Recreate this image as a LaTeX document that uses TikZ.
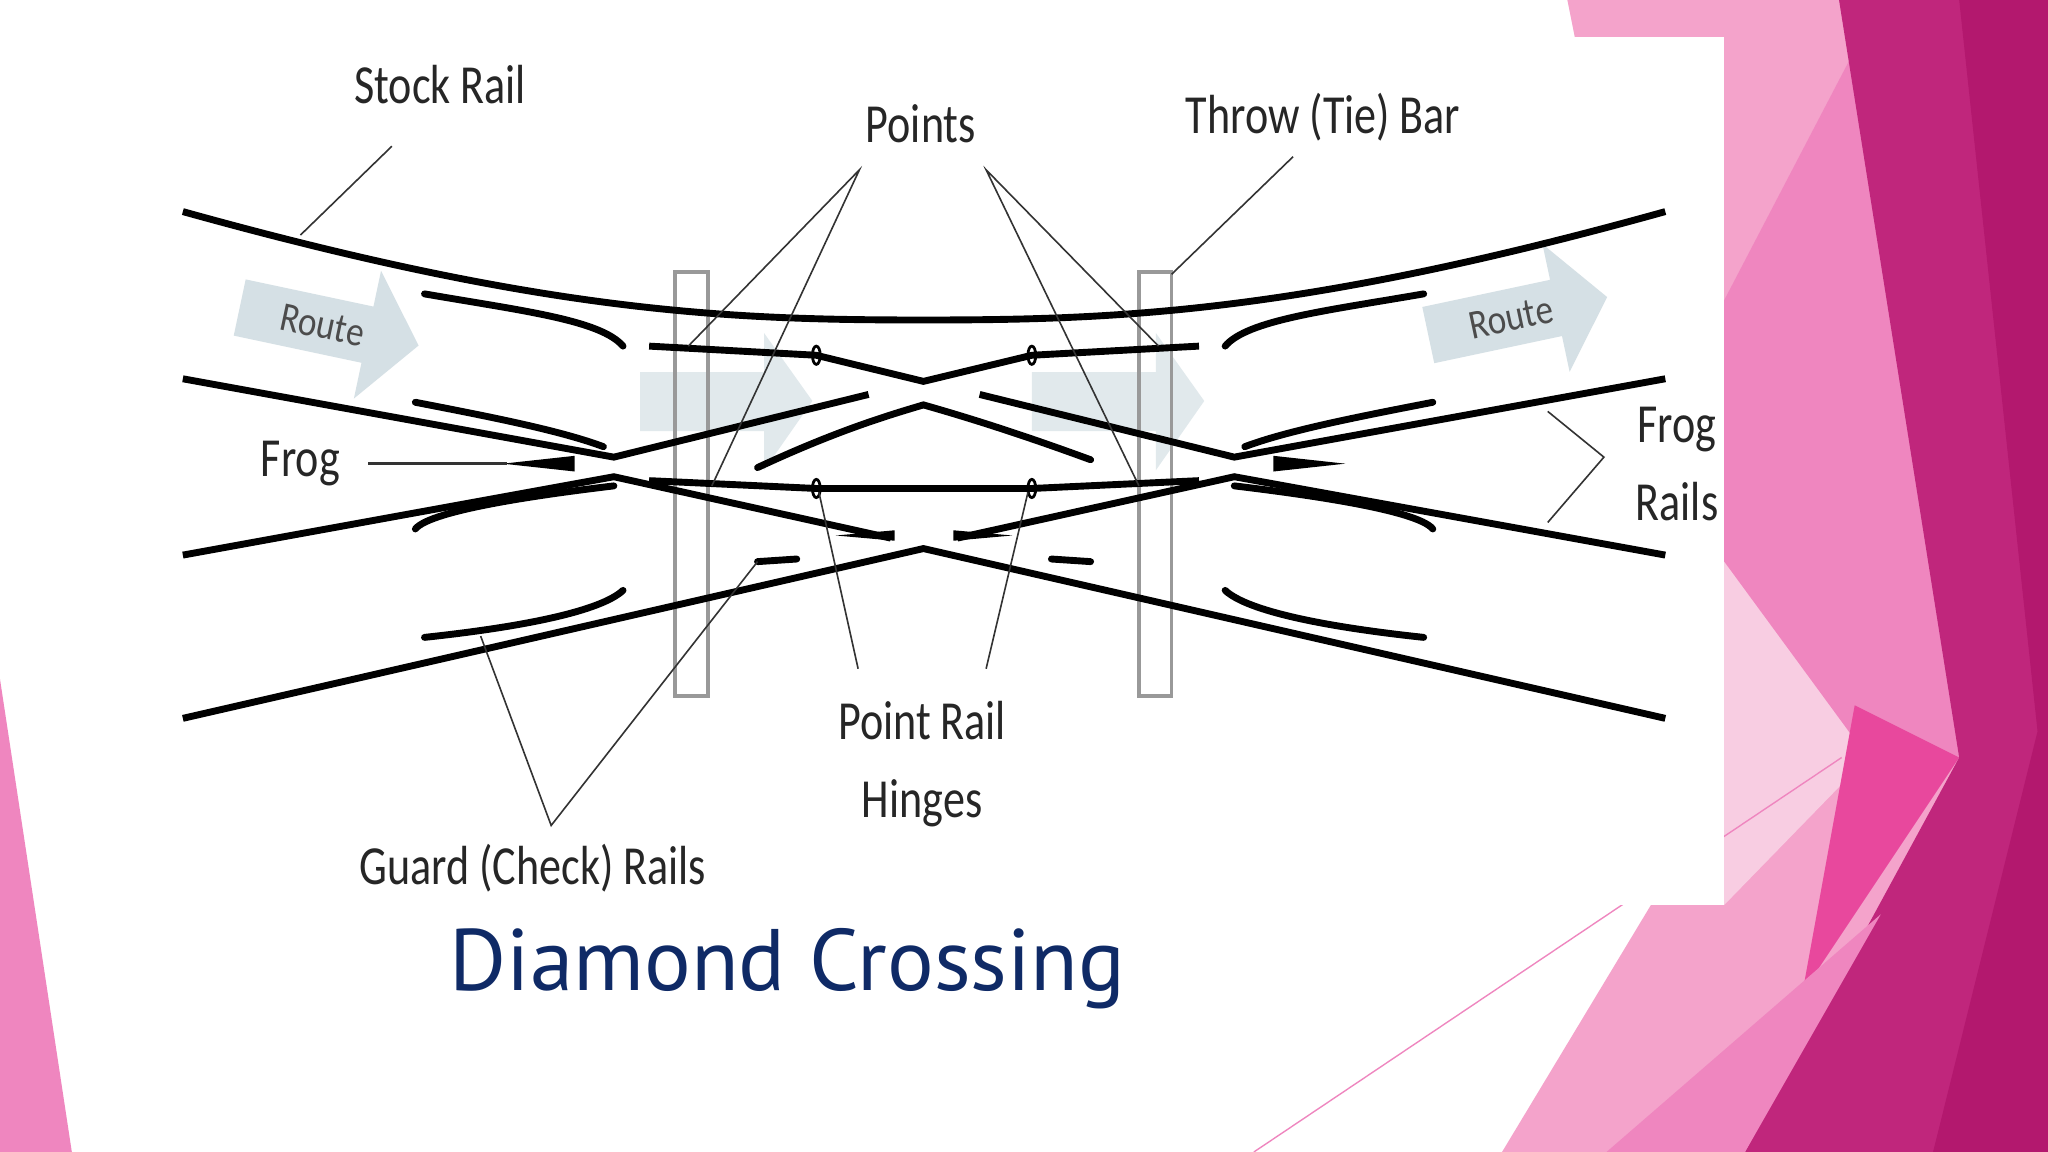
\documentclass[tikz,border=0pt]{standalone}
\usepackage{fontspec}
\setmainfont{Carlito}
\newfontfamily\titlefont{PT Sans}
\definecolor{pkA}{HTML}{F4A3CB}
\definecolor{pkB}{HTML}{EF86BF}
\definecolor{pkC}{HTML}{F8CDE2}
\definecolor{pkHot}{HTML}{E8489D}
\definecolor{pkDark}{HTML}{C0267C}
\definecolor{pkDarker}{HTML}{B3186E}
\definecolor{navy}{HTML}{0F2A66}
\begin{document}
\begin{tikzpicture}[x=0.01cm,y=-0.01cm,
  rail/.style={line width=1.5pt,line cap=butt},
  guard/.style={line width=1.5pt,line cap=round},
  lead/.style={line width=0.35pt,black!80},
  lbl/.style={font=\fontsize{12}{13}\selectfont,xscale=0.8,transform shape,black!85,align=center},
  bar/.style={draw=gray!80,line width=0.8pt,fill=none},
  routearrow/.style={fill=cyan!25!gray!30,draw=none}]
\useasboundingbox (0,0) rectangle (1568,882);
% background
\fill[white] (0,0) rectangle (1568,882);
\fill[pkA] (1200,0) -- (1568,0) -- (1568,882) -- (1150,882) -- (1320,600) -- cycle;
\fill[pkB] (1320,230) -- (1440,0) -- (1500,580) -- (1320,600) -- cycle;
\fill[pkC] (1320,430) -- (1430,580) -- (1320,693) -- cycle;
\fill[pkHot] (1420,540) -- (1500,580) -- (1380,760) -- cycle;
\fill[pkDark] (1408,0) -- (1568,0) -- (1568,882) -- (1336,882) -- (1500,580) -- cycle;
\fill[pkDarker] (1500,0) -- (1568,0) -- (1568,882) -- (1480,882) -- (1560,560) -- cycle;
\fill[pkB] (1230,882) -- (1336,882) -- (1440,700) -- cycle;
\draw[pkB,line width=0.3pt] (960,882) -- (1410,580);
\fill[white] (0,28) rectangle (1320,693);
\fill[pkB] (0,520) -- (55,882) -- (0,882) -- cycle;
% route arrows
\begin{scope}[shift={(252,250)},rotate=-12]
 \fill[routearrow] (-70,-22) -- (30,-22) -- (30,-50) -- (70,0) -- (30,50) -- (30,22) -- (-70,22) -- cycle;
 \node[font=\fontsize{9}{10}\selectfont,xscale=0.85,transform shape,black!70] (r1) at (-5,0) {Route};
\end{scope}
\begin{scope}[shift={(1162,242)},rotate=12]
 \fill[routearrow] (-70,-22) -- (30,-22) -- (30,-50) -- (70,0) -- (30,50) -- (30,22) -- (-70,22) -- cycle;
 \node[font=\fontsize{9}{10}\selectfont,xscale=0.85,transform shape,black!70] (r2) at (-5,0) {Route};
\end{scope}
\fill[routearrow,opacity=0.7] (490,285) -- (585,285) -- (585,255) -- (622,307) -- (585,360) -- (585,330) -- (490,330) -- cycle;
\fill[routearrow,opacity=0.7] (790,285) -- (885,285) -- (885,255) -- (922,307) -- (885,360) -- (885,330) -- (790,330) -- cycle;
% throw bars
\draw[bar] (517,208) rectangle (542,533);
\draw[bar] (872,208) rectangle (897,533);
% stock rails
\draw[rail] (140,162) .. controls (420,240) and (560,245) .. (707,245) .. controls (855,245) and (995,240) .. (1275,162);
\draw[rail] (140,550) -- (707,420) -- (1275,550);
% upper point rails
\draw[rail] (497,265) -- (625,272) -- (707,292) -- (790,272) -- (918,265);
\draw[line width=0.6pt] (625,272) ellipse (3 and 7) (790,272) ellipse (3 and 7);
% lower closure rail
\draw[rail] (497,368) -- (625,374) -- (790,374) -- (918,368);
\draw[line width=0.6pt] (625,374) ellipse (3 and 7) (790,374) ellipse (3 and 7);
% diagonal rails
\draw[rail] (140,290) -- (470,350) -- (665,302);
\draw[rail] (140,425) -- (470,365) -- (682,412);
\draw[rail] (1275,290) -- (945,350) -- (750,302);
\draw[rail] (1275,425) -- (945,365) -- (733,412);
% frogs
\fill (385,355) -- (440,349) -- (440,361) -- cycle;
\fill (1030,355) -- (975,349) -- (975,361) -- cycle;
\fill (640,410) -- (685,406) -- (685,414) -- cycle;
\fill (775,410) -- (730,406) -- (730,414) -- cycle;
% inner rails
\draw[guard] (580,358) .. controls (640,330) and (680,318) .. (707,310) .. controls (735,318) and (775,330) .. (835,352);
\draw[guard] (580,430) -- (610,428);
\draw[guard] (835,430) -- (805,428);
% guard rails
\draw[guard] (325,225) .. controls (400,238) and (460,245) .. (477,265);
\draw[guard] (318,308) .. controls (380,320) and (430,330) .. (462,342);
\draw[guard] (318,405) .. controls (330,390) and (420,378) .. (470,372);
\draw[guard] (325,488) .. controls (400,480) and (460,468) .. (477,452);
\draw[guard] (1090,225) .. controls (1015,238) and (955,245) .. (938,265);
\draw[guard] (1097,308) .. controls (1035,320) and (985,330) .. (953,342);
\draw[guard] (1097,405) .. controls (1085,390) and (995,378) .. (945,372);
\draw[guard] (1090,488) .. controls (1015,480) and (955,468) .. (938,452);
% labels
\node[lbl] (stock) at (337,65) {Stock Rail};
\node[lbl] (points) at (705,95) {Points};
\node[lbl] (throw) at (1013,90) {Throw (Tie) Bar};
\node[lbl] (frog) at (230,355) {Frog};
\node[lbl] (frograils) at (1284,355) {Frog\\[4pt]Rails};
\node[lbl] (hinges) at (706,585) {Point Rail\\[4pt]Hinges};
\node[lbl] (guardl) at (408,665) {Guard (Check) Rails};
\node[font=\titlefont\fontsize{19}{22}\selectfont,text=navy] (title) at (603,742) {Diamond Crossing};
% leaders
\coordinate (s1) at (300,112); \coordinate (s2) at (230,180);
\draw[lead] (s1) -- (s2);
\coordinate (p1) at (658,130); \coordinate (p2) at (755,130);
\coordinate (pa) at (527,265); \coordinate (pb) at (545,372);
\coordinate (pc) at (887,265); \coordinate (pd) at (872,372);
\draw[lead] (pa) -- (p1) -- (pb);
\draw[lead] (pc) -- (p2) -- (pd);
\coordinate (t1) at (990,120); \coordinate (t2) at (897,210);
\draw[lead] (t1) -- (t2);
\coordinate (f1) at (282,355); \coordinate (f2) at (388,355);
\draw[lead,line width=0.6pt] (f1) -- (f2);
\coordinate (fr1) at (1185,315); \coordinate (fr2) at (1228,350); \coordinate (fr3) at (1185,400);
\draw[lead] (fr1) -- (fr2) -- (fr3);
\coordinate (h1) at (657,512); \coordinate (h2) at (755,512);
\coordinate (h3) at (627,377); \coordinate (h4) at (787,377);
\draw[lead] (h1) -- (h3); \draw[lead] (h2) -- (h4);
\coordinate (g1) at (422,632); \coordinate (g2) at (368,487); \coordinate (g3) at (580,430);
\draw[lead] (g2) -- (g1) -- (g3);
\end{tikzpicture}
\end{document}
